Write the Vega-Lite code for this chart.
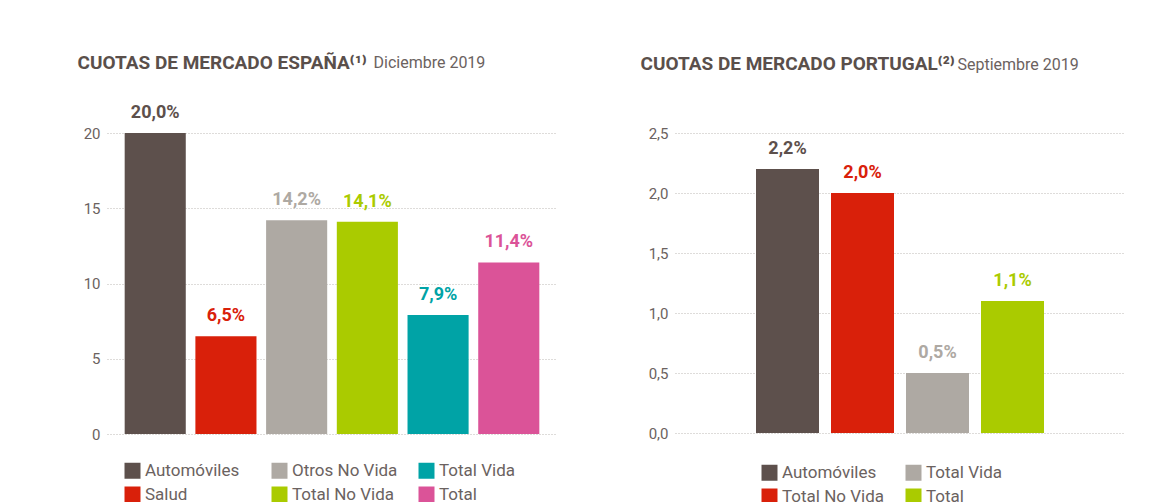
{
  "$schema": "https://vega.github.io/schema/vega-lite/v6.json",
  "background": "white",
  "padding": {"left": 77, "top": 53, "right": 0, "bottom": 0},
  "spacing": 83,
  "config": {
    "font": "Roboto",
    "view": {"stroke": null},
    "axisY": {
      "ticks": false, "domain": false, "grid": true,
      "gridDash": [1, 2], "gridColor": "#bdb8b4", "gridWidth": 1,
      "labelFontSize": 15, "labelColor": "#6b6260", "labelPadding": 7,
      "titleAngle": 0, "titleAlign": "left", "titleBaseline": "alphabetic",
      "titleFontSize": 19, "titleFontWeight": "bold", "titleColor": "#5a4f4b"
    },
    "axisX": {
      "labels": false, "ticks": false, "domain": false, "grid": false,
      "titleAngle": 0, "titleAlign": "left", "titleBaseline": "alphabetic",
      "titleFontSize": 16, "titleFontWeight": "normal", "titleColor": "#6b6260"
    },
    "legend": {
      "orient": "none", "title": null, "symbolType": "square", "symbolSize": 256,
      "symbolStrokeWidth": 0, "labelFontSize": 17, "labelColor": "#6b6260",
      "rowPadding": 6, "columnPadding": 20, "gridAlign": "all", "labelOffset": 4,
      "padding": 0
    },
    "text": {"fontWeight": "bold", "fontSize": 18, "baseline": "alphabetic", "dy": -15}
  },
  "resolve": {"scale": {"color": "independent", "x": "independent", "y": "independent"}},
  "hconcat": [
    {
      "width": 450,
      "height": 301,
      "data": {"values": [
        {"categoria": "Automóviles", "cuota": 20.0},
        {"categoria": "Salud", "cuota": 6.5},
        {"categoria": "Otros No Vida", "cuota": 14.2},
        {"categoria": "Total No Vida", "cuota": 14.1},
        {"categoria": "Total Vida", "cuota": 7.9},
        {"categoria": "Total", "cuota": 11.4}
      ]},
      "transform": [{"calculate": "replace(format(datum.cuota, '.1f'), '.', ',') + '%'", "as": "etiqueta"}],
      "encoding": {
        "x": {
          "field": "categoria", "type": "nominal",
          "sort": ["Automóviles", "Salud", "Otros No Vida", "Total No Vida", "Total Vida", "Total"],
          "scale": {"paddingInner": 0.136, "paddingOuter": 0.25},
          "axis": {"title": "Diciembre 2019", "titleX": 266, "titleY": -367}
        },
        "y": {
          "field": "cuota", "type": "quantitative",
          "scale": {"domain": [0, 20]},
          "axis": {"values": [0, 5, 10, 15, 20], "title": "CUOTAS DE MERCADO ESPAÑA⁽¹⁾", "titleX": -30, "titleY": -65}
        },
        "color": {
          "field": "categoria", "type": "nominal",
          "scale": {
            "domain": ["Automóviles", "Salud", "Otros No Vida", "Total No Vida", "Total Vida", "Total"],
            "range": ["#5d504c", "#d9200a", "#aea9a3", "#aacb00", "#00a3a6", "#db5398"]
          },
          "legend": {"columns": 3, "legendX": 17, "legendY": 329}
        }
      },
      "layer": [
        {"mark": {"type": "bar"}},
        {"mark": {"type": "text"}, "encoding": {"text": {"field": "etiqueta", "type": "nominal"}}}
      ]
    },
    {
      "width": 450,
      "height": 300,
      "data": {"values": [
        {"categoria": "Automóviles", "cuota": 2.2},
        {"categoria": "Total No Vida", "cuota": 2.0},
        {"categoria": "Total Vida", "cuota": 0.5},
        {"categoria": "Total", "cuota": 1.1}
      ]},
      "transform": [{"calculate": "replace(format(datum.cuota, '.1f'), '.', ',') + '%'", "as": "etiqueta"}],
      "encoding": {
        "x": {
          "field": "categoria", "type": "nominal",
          "sort": ["Automóviles", "Total No Vida", "Total Vida", "Total"],
          "scale": {"paddingInner": 0, "paddingOuter": 1},
          "axis": {"title": "Septiembre 2019", "titleX": 282, "titleY": -364}
        },
        "y": {
          "field": "cuota", "type": "quantitative",
          "scale": {"domain": [0, 2.5]},
          "axis": {
            "values": [0, 0.5, 1, 1.5, 2, 2.5],
            "labelExpr": "replace(format(datum.value, '.1f'), '.', ',')",
            "title": "CUOTAS DE MERCADO PORTUGAL⁽²⁾", "titleX": -35, "titleY": -64
          }
        },
        "color": {
          "field": "categoria", "type": "nominal",
          "scale": {
            "domain": ["Automóviles", "Total No Vida", "Total Vida", "Total"],
            "range": ["#5d504c", "#d9200a", "#aea9a3", "#aacb00"]
          },
          "legend": {"columns": 2, "legendX": 86, "legendY": 331}
        }
      },
      "layer": [
        {"mark": {"type": "bar", "width": {"band": 0.84}}},
        {"mark": {"type": "text"}, "encoding": {"text": {"field": "etiqueta", "type": "nominal"}}}
      ]
    }
  ]
}
